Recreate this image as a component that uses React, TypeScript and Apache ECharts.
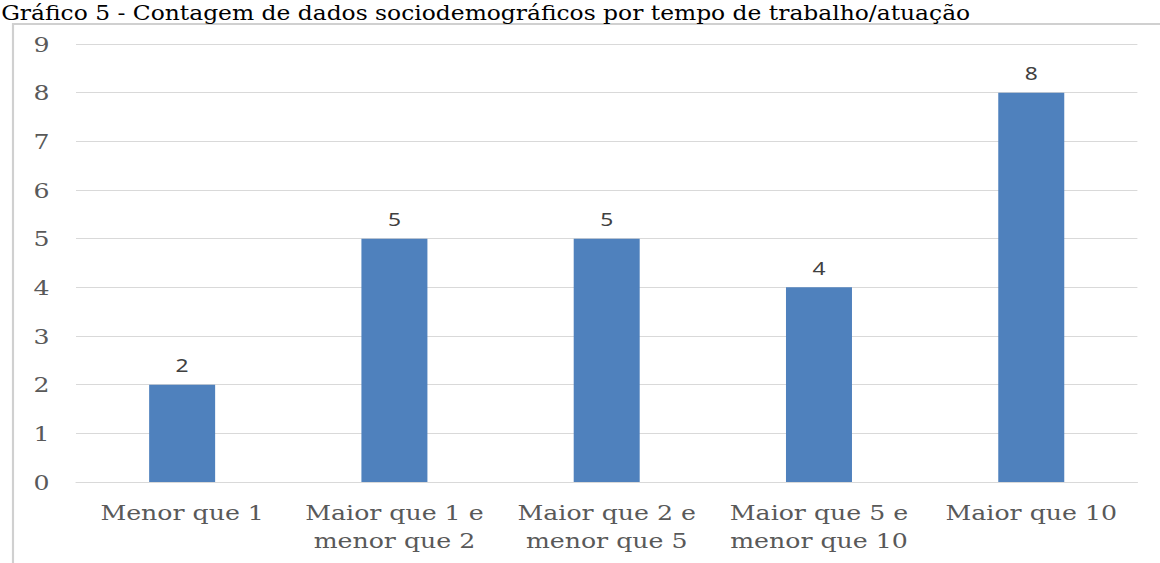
import React, { useEffect, useRef } from "react";
import * as echarts from "echarts";

const TITLE = "Gráfico 5 - Contagem de dados sociodemográficos por tempo de trabalho/atuação";
const categories = [
  "Menor que 1",
  "Maior que 1 e\nmenor que 2",
  "Maior que 2 e\nmenor que 5",
  "Maior que 5 e\nmenor que 10",
  "Maior que 10",
];
const counts = [2, 5, 5, 4, 8];
const yMin = 0;
const yMax = 9;
const yInterval = 1;

const SCALE_X = 1.2;
const OUT_W = 1160;
const OUT_H = 563;
const IN_W = OUT_W / SCALE_X;
const SERIF = "DejaVu Serif";

export default function App() {
  const ref = useRef<HTMLDivElement>(null);
  useEffect(() => {
    if (!ref.current) return;
    const chart = echarts.init(ref.current, undefined, { renderer: "svg" });
    chart.setOption({
      animation: false,
      backgroundColor: "#ffffff",
      graphic: [
        {
          type: "rect",
          shape: { x: 13 / SCALE_X, y: 24, width: 1200, height: 800 },
          style: { fill: "none", stroke: "#d0d0d0", lineWidth: 1.8 },
          z: -1,
        },
        {
          type: "text",
          x: 1,
          y: 3,
          style: {
            text: TITLE,
            fontFamily: SERIF,
            fontSize: 19.5,
            fill: "#000000",
            verticalAlign: "top",
          },
        },
      ],
      grid: { left: 76 / SCALE_X, right: IN_W - 1137 / SCALE_X, top: 44, bottom: OUT_H - 482 },
      xAxis: {
        type: "category",
        data: categories,
        axisLine: { lineStyle: { color: "#d9d9d9", width: 1 } },
        axisTick: { show: false },
        axisLabel: {
          color: "#595959",
          fontFamily: SERIF,
          fontSize: 21,
          lineHeight: 28,
          margin: 16,
          interval: 0,
        },
      },
      yAxis: {
        type: "value",
        min: yMin,
        max: yMax,
        interval: yInterval,
        axisLine: { show: false },
        axisTick: { show: false },
        splitLine: { lineStyle: { color: "#d9d9d9", width: 1 } },
        axisLabel: {
          color: "#595959",
          fontFamily: SERIF,
          fontSize: 21,
          margin: 22,
        },
      },
      series: [
        {
          type: "bar",
          data: counts,
          barWidth: 66 / SCALE_X,
          itemStyle: { color: "#4f81bd" },
          label: {
            show: true,
            position: "top",
            distance: 10,
            color: "#404040",
            fontFamily: "Noto Sans",
            fontSize: 19,
          },
        },
      ],
    });
    return () => chart.dispose();
  }, []);
  return (
    <div
      style={{
        position: "fixed",
        left: 0,
        top: 0,
        width: OUT_W,
        height: OUT_H,
        overflow: "hidden",
        background: "#ffffff",
      }}
    >
      <div
        ref={ref}
        style={{
          width: IN_W,
          height: OUT_H,
          transform: `scaleX(${SCALE_X})`,
          transformOrigin: "left top",
        }}
      />
    </div>
  );
}
